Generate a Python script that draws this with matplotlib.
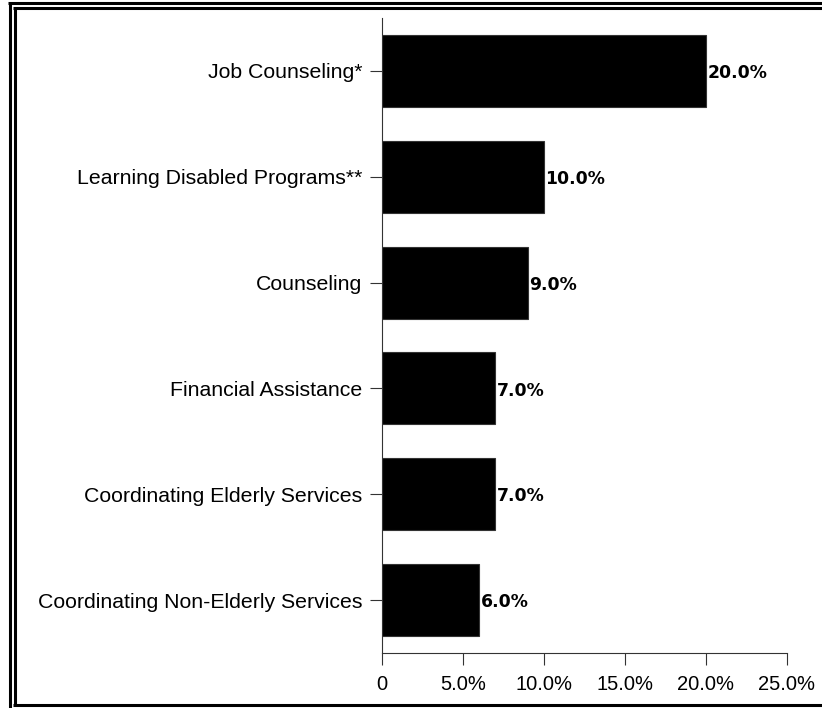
import matplotlib
matplotlib.use("Agg")
import matplotlib.pyplot as plt
from matplotlib.lines import Line2D
from matplotlib.ticker import FuncFormatter

categories = [
    "Job Counseling*",
    "Learning Disabled Programs**",
    "Counseling",
    "Financial Assistance",
    "Coordinating Elderly Services",
    "Coordinating Non-Elderly Services",
]
values = [20.0, 10.0, 9.0, 7.0, 7.0, 6.0]
xticks = [0, 5, 10, 15, 20, 25]

W, H = 822, 708
fig = plt.figure(figsize=(W / 100, H / 100), dpi=100)
fig.patch.set_facecolor("white")

ax = fig.add_axes([382 / W, 55 / H, 404.7 / W, 635 / H])
pos = list(range(len(categories)))
ax.barh(pos, values, height=0.68, color="black", edgecolor="#333333", linewidth=0.8)
ax.set_ylim(len(categories) - 0.5, -0.5)
ax.set_xlim(0, 25)

ax.set_yticks(pos)
ax.set_yticklabels(categories, fontsize=15.3, family="Liberation Sans")
ax.set_xticks(xticks)
ax.xaxis.set_major_formatter(FuncFormatter(lambda v, p: "0" if v == 0 else f"{v:.1f}%"))
for lab in ax.get_xticklabels():
    lab.set_family("Liberation Sans")
    lab.set_fontsize(14.5)

ax.tick_params(axis="y", length=8.6, width=0.8, pad=5.8, color="#333333")
ax.tick_params(axis="x", length=8.6, width=0.8, pad=7, color="#333333")

for s in ["top", "right"]:
    ax.spines[s].set_visible(False)
for s in ["left", "bottom"]:
    ax.spines[s].set_color("#333333")
    ax.spines[s].set_linewidth(0.8)

for p, v in zip(pos, values):
    ax.text(v + 0.1, p + 0.02, f"{v:.1f}%", va="center", ha="left",
            fontsize=12.4, fontweight="bold", family="DejaVu Sans")

# double frame around the picture (cropped at right and bottom)
def px_line(xs, ys, lw=2.2):
    fig.add_artist(Line2D([x / W for x in xs], [1 - y / H for y in ys],
                          transform=fig.transFigure, color="black", linewidth=lw,
                          solid_capstyle="butt"))

px_line([9.5, 9.5], [2.5, 720])
px_line([8, 830], [2.5, 2.5])
px_line([14.5, 14.5], [7.5, 705])
px_line([13, 830], [7.5, 7.5])
px_line([13, 830], [705, 705])

fig.savefig("out.png", dpi=100, facecolor="white")
